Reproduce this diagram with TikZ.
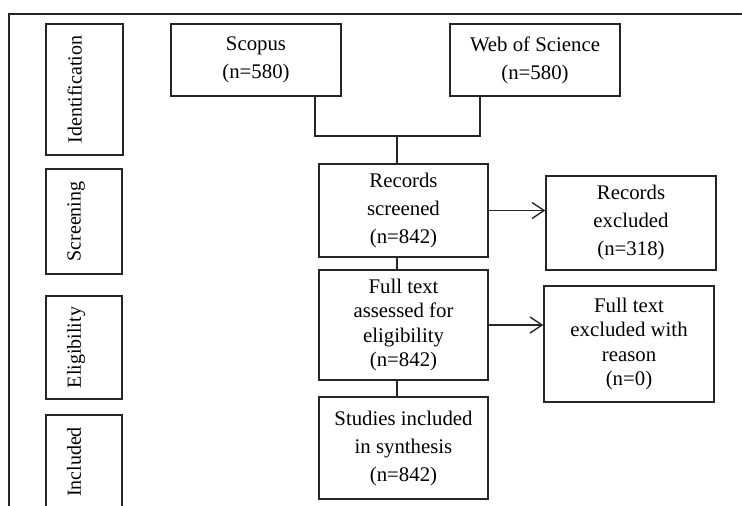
\documentclass[tikz,border=0pt]{standalone}
\usepackage{fontspec}
\setmainfont{Liberation Serif}
\usetikzlibrary{arrows.meta}

\begin{document}
\begin{tikzpicture}[x=0.5pt,y=-0.5pt,->,>={Straight Barb[length=6pt,width=8pt]}]
  \tikzstyle{box}=[draw=black!85, text=black, line width=0.7pt, align=center,
inner sep=2pt, font=\fontsize{10.4}{14}\selectfont]
  \tikzstyle{tall}=[box, font=\fontsize{10.4}{12.2}\selectfont]
  \tikzstyle{phase}=[box, rotate=90, text depth=10pt, font=\fontsize{10}{12}\selectfont]
  \useasboundingbox (0,0) rectangle (742,506);
  \draw[-, line width=0.7pt, black!85] (742,14) -- (9,14) -- (9,506);

  \node[phase, minimum width=65.5pt, minimum height=38.5pt] (P_1) at (84.5,89.5) {Identification};
  \node[phase, minimum width=52.5pt, minimum height=38pt] (P_2) at (84,221.5) {Screening};
  \node[phase, minimum width=51.5pt, minimum height=38pt] (P_3) at (84,347.5) {Eligibility};
  \node[phase, minimum width=47pt, minimum height=38pt] (P_4) at (84,462) {Included};

  \node[box, minimum width=85pt, minimum height=36pt] (scopus) at (256,60) {Scopus\\(n=580)};
  \node[box, minimum width=85pt, minimum height=36pt] (wos) at (535,60) {Web of Science\\(n=580)};
  \node[box, minimum width=84.5pt, minimum height=46.5pt] (screened) at (403.5,210.5) {Records\\screened\\(n=842)};
  \node[box, minimum width=85pt, minimum height=47pt] (recexcl) at (631,223) {Records\\excluded\\(n=318)};
  \node[tall, minimum width=84.5pt, minimum height=55pt] (fulltext) at (403.5,325) {Full text\\assessed for\\eligibility\\(n=842)};
  \node[tall, minimum width=85pt, minimum height=58pt] (ftexcl) at (629,344) {Full text\\excluded with\\reason\\(n=0)};
  \node[box, minimum width=84.5pt, minimum height=51pt] (studies) at (403.5,448) {Studies included\\in synthesis\\(n=842)};

  \coordinate (sleg) at (315,136);
  \coordinate (wleg) at (480,136);
  \coordinate (join) at (397,136);

  \draw[-, line width=0.7pt, black!85] (scopus.south -| sleg) -- (sleg) -- (wleg) -- (wos.south -| wleg);
  \draw[-, line width=0.7pt, black!85] (join) -- (screened.north -| join);
  \draw[-, line width=0.7pt, black!85] (screened.south -| join) -- (fulltext.north -| join);
  \draw[-, line width=0.7pt, black!85] (fulltext.south -| join) -- (studies.north -| join);
  \draw[line width=0.7pt, black!85] (screened.east) -- (screened.east -| recexcl.west);
  \draw[line width=0.7pt, black!85] (fulltext.east) -- (fulltext.east -| ftexcl.west);
\end{tikzpicture}
\end{document}
